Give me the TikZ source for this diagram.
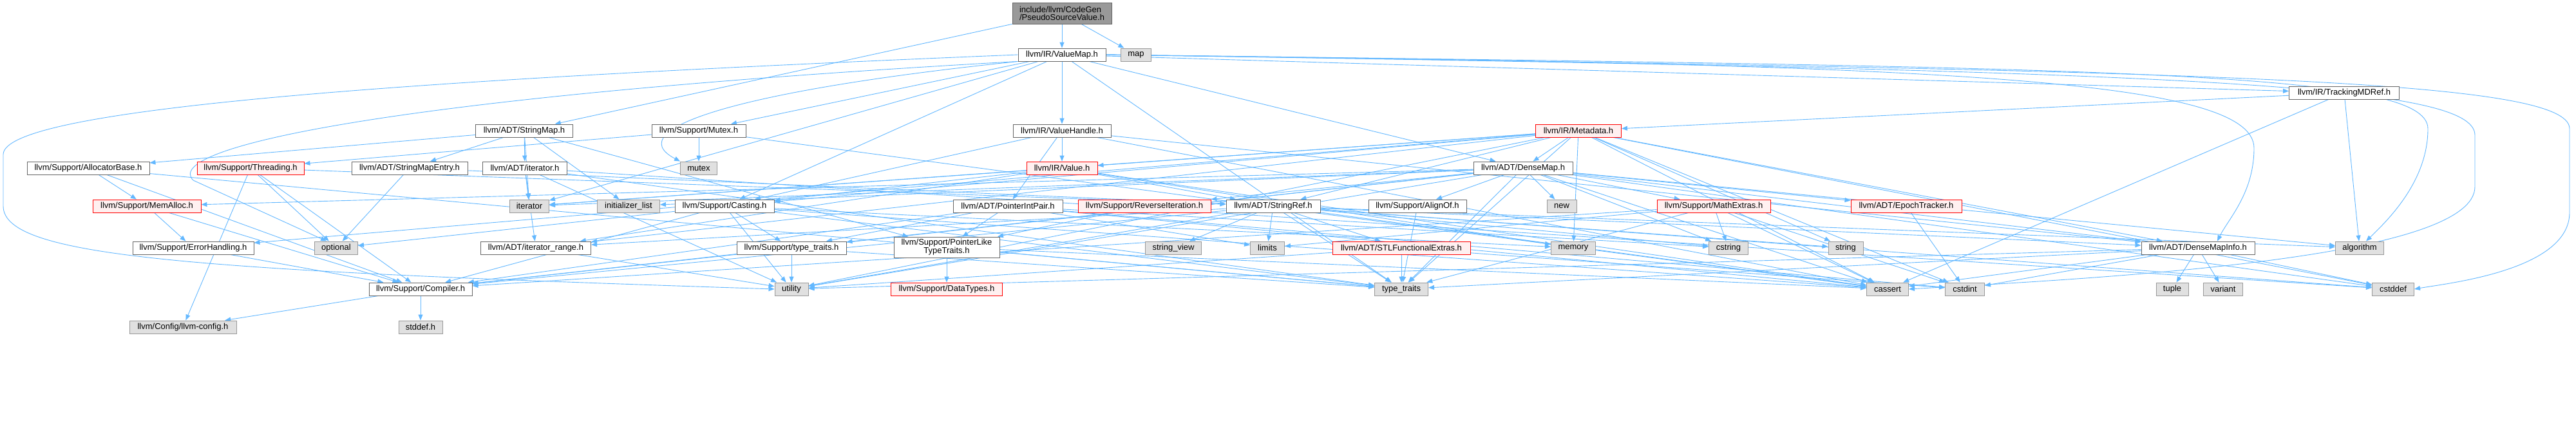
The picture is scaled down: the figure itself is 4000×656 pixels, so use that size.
\documentclass[tikz,border=0pt]{standalone}
\usepackage{fontspec}
\setmainfont{Liberation Sans}
\usetikzlibrary{arrows.meta}
\definecolor{edgec}{HTML}{63B8FF}
\definecolor{redfill}{HTML}{FFF0F0}
\definecolor{grayfill}{HTML}{E0E0E0}
\definecolor{grayline}{HTML}{999999}
\definecolor{boxline}{HTML}{666666}
\pgfdeclarelayer{back}
\pgfdeclarelayer{bg}
\pgfsetlayers{back,bg,main}
\tikzset{
  nb/.style={draw=boxline, fill=white, line width=0.9pt, minimum height=20pt, inner sep=0pt,
    font=\fontsize{13}{12}\selectfont, text=black},
  sysb/.style={nb, draw=grayline, fill=grayfill},
  redb/.style={nb, draw=red, fill=redfill},
  rootb/.style={nb, draw=boxline, fill=grayline, minimum height=33pt, align=left},
  e/.style={draw=edgec, line width=0.9pt, -{Triangle[length=9pt,width=7pt]}},
}
\begin{document}
\begin{tikzpicture}[x=1pt,y=-1pt]
\begin{pgfonlayer}{back}
\fill[white] (0,0) rectangle (4000,656);
\end{pgfonlayer}
\useasboundingbox (0,0) rectangle (4000,656);
% rank 0-1
\node[rootb, minimum width=154pt] (root) at (1649,20.5) {include/llvm/CodeGen\\/PseudoSourceValue.h};
\node[nb, minimum width=136pt] (vmap) at (1649,85) {llvm/IR/ValueMap.h};
\node[sysb, minimum width=47pt] (map) at (1764,85) {map};
\node[nb, minimum width=171pt] (tmd) at (3640,144) {llvm/IR/TrackingMDRef.h};
% rank 2
\node[nb, minimum width=151pt] (smap) at (814,203) {llvm/ADT/StringMap.h};
\node[nb, minimum width=146pt] (mutexh) at (1085,203) {llvm/Support/Mutex.h};
\node[nb, minimum width=152pt] (vh) at (1649,203) {llvm/IR/ValueHandle.h};
\node[redb, minimum width=133pt] (md) at (2451,203) {llvm/IR/Metadata.h};
% rank 3
\node[nb, minimum width=190pt] (ab) at (137,261) {llvm/Support/AllocatorBase.h};
\node[redb, minimum width=166pt] (thr) at (389,261) {llvm/Support/Threading.h};
\node[nb, minimum width=180pt] (sme) at (636,261) {llvm/ADT/StringMapEntry.h};
\node[nb, minimum width=131pt] (iterh) at (815,261) {llvm/ADT/iterator.h};
\node[sysb, minimum width=57pt] (mtx) at (1085,261) {mutex};
\node[redb, minimum width=110pt] (val) at (1649,261) {llvm/IR/Value.h};
\node[nb, minimum width=154pt] (dm) at (2365,261) {llvm/ADT/DenseMap.h};
% rank 4
\node[redb, minimum width=168pt] (ma) at (228,320) {llvm/Support/MemAlloc.h};
\node[sysb, minimum width=61pt] (iter) at (822,320) {iterator};
\node[sysb, minimum width=97pt] (il) at (976,320) {initializer\_list};
\node[nb, minimum width=154pt] (cast) at (1125,320) {llvm/Support/Casting.h};
\node[nb, minimum width=170pt] (pip) at (1565,320) {llvm/ADT/PointerIntPair.h};
\node[redb, minimum width=206pt] (ri) at (1777,320) {llvm/Support/ReverseIteration.h};
\node[nb, minimum width=146pt] (sr) at (1977,320) {llvm/ADT/StringRef.h};
\node[nb, minimum width=152pt] (ao) at (2201,320) {llvm/Support/AlignOf.h};
\node[sysb, minimum width=46pt] (new) at (2425,320) {new};
\node[redb, minimum width=176pt] (mex) at (2661,320) {llvm/Support/MathExtras.h};
\node[redb, minimum width=172pt] (et) at (2960,320) {llvm/ADT/EpochTracker.h};
% rank 5
\node[nb, minimum width=188pt] (eh) at (300,385) {llvm/Support/ErrorHandling.h};
\node[sysb, minimum width=67pt] (opt) at (522,385) {optional};
\node[nb, minimum width=171pt] (ir) at (832,385) {llvm/ADT/iterator\_range.h};
\node[nb, minimum width=170pt] (stt) at (1229,385) {llvm/Support/type\_traits.h};
\node[nb, minimum width=164pt, minimum height=32pt, align=center] (plt) at (1470,384) {llvm/Support/PointerLike\\TypeTraits.h};
\node[sysb, minimum width=87pt] (sv) at (1822,385) {string\_view};
\node[sysb, minimum width=53pt] (lim) at (1968,385) {limits};
\node[redb, minimum width=214pt] (stlf) at (2176,385) {llvm/ADT/STLFunctionalExtras.h};
\node[sysb, minimum width=69pt] (mem) at (2443,385) {memory};
\node[sysb, minimum width=61pt] (cstr) at (2684,385) {cstring};
\node[sysb, minimum width=54pt] (str) at (2866,385) {string};
\node[nb, minimum width=176pt] (dmi) at (3413,385) {llvm/ADT/DenseMapInfo.h};
\node[sysb, minimum width=75pt] (alg) at (3664,385) {algorithm};
% rank 6
\node[nb, minimum width=160pt] (comp) at (653,449) {llvm/Support/Compiler.h};
\node[sysb, minimum width=52pt] (util) at (1229,449) {utility};
\node[redb, minimum width=173pt] (dt) at (1470,449) {llvm/Support/DataTypes.h};
\node[sysb, minimum width=83pt] (tt) at (2176,449) {type\_traits};
\node[sysb, minimum width=65pt] (cas) at (2931,449) {cassert};
\node[sysb, minimum width=61pt] (cint) at (3051,449) {cstdint};
\node[sysb, minimum width=50pt] (tup) at (3373,449) {tuple};
\node[sysb, minimum width=61pt] (var) at (3452,449) {variant};
\node[sysb, minimum width=65pt] (cdef) at (3716,449) {cstddef};
% rank 7
\node[sysb, minimum width=166pt] (cfg) at (284,508) {llvm/Config/llvm-config.h};
\node[sysb, minimum width=68pt] (stdd) at (653,508) {stddef.h};

\begin{pgfonlayer}{bg}
% straight edges
\foreach \a/\b in {
  root/vmap, root/map, root/smap,
  vmap/dm, vmap/tmd, vmap/vh, vmap/cast, vmap/mutexh, vmap/iter, vmap/tt,
  smap/sme, smap/iterh, smap/ab, smap/plt, smap/il, smap/iter,
  sme/sr, sme/opt,
  iterh/ir, iterh/cdef, iterh/iter, iterh/tt, iterh/util,
  ab/comp, ab/ma, ab/tt,
  thr/cfg, thr/comp, thr/opt, thr/sr,
  ma/comp, ma/eh, eh/comp, comp/cfg, comp/stdd,
  mutexh/thr, mutexh/cas, mutexh/mtx,
  vh/dmi, vh/pip, vh/val, vh/cast, vh/cas,
  val/sr, val/ir, val/cast, val/cas, val/iter, val/mem,
  tmd/md, tmd/alg, tmd/cas,
  md/dm, md/dmi, md/sr, md/ir, md/val, md/cast, md/eh, md/cas, md/cdef, md/cint,
  md/iter, md/mem, md/str, md/tt, md/util,
  dm/dmi, dm/et, dm/ao, dm/comp, dm/mex, dm/ma, dm/ri, dm/stt, dm/alg, dm/cas,
  dm/cdef, dm/cstr, dm/il, dm/iter, dm/new, dm/tt, dm/util,
  pip/comp, pip/plt, pip/stt, pip/cas, pip/cint, pip/cstr, pip/lim,
  ri/plt,
  sr/dmi, sr/stlf, sr/ir, sr/comp, sr/alg, sr/cas, sr/cdef, sr/cstr, sr/lim,
  sr/str, sr/sv, sr/tt, sr/util,
  cast/comp, cast/stt, cast/cas, cast/mem, cast/opt, cast/tt, cast/util,
  stt/comp, stt/tt, stt/util,
  plt/dt, plt/cas, plt/tt,
  ao/tt,
  mex/comp, mex/cas, mex/cint, mex/cstr, mex/lim, mex/tt,
  et/cint,
  stlf/cint, stlf/tt, stlf/util,
  ir/util,
  dmi/cas, dmi/cdef, dmi/cint, dmi/tup, dmi/tt, dmi/util, dmi/var}
  \draw[e] (\a) -- (\b);
% routed edges of ValueMap
\draw[e] (vmap.west) .. controls (600,125) and (5,170) .. (5,240) -- (5,320)
  .. controls (5,400) and (300,420) .. (util.west);
\draw[e] (vmap.south west) .. controls (600,150) and (250,230) .. (300,280)
  -- ([xshift=-15pt]opt.north);
\draw[e] (vmap.south west) .. controls (1150,140) and (960,200) .. (mtx.north west);
\draw[e] (vmap.east) .. controls (3000,100) and (3500,120) .. (3500,230)
  .. controls (3500,300) and (3460,340) .. ([xshift=30pt]dmi.north);
\draw[e] (vmap.east) .. controls (3300,105) and (3770,110) .. (3770,200)
  .. controls (3770,280) and (3710,340) .. ([xshift=10pt]alg.north);
\draw[e] (vmap.east) .. controls (3400,110) and (3990,120) .. (3990,200) -- (3990,330)
  .. controls (3990,420) and (3800,440) .. (cdef.east);
\draw[e] (vmap.east) .. controls (3400,110) and (3843,130) .. (3843,210) -- (3843,290)
  .. controls (3843,400) and (3300,430) .. (cas.east);
\end{pgfonlayer}
\end{tikzpicture}
\end{document}
